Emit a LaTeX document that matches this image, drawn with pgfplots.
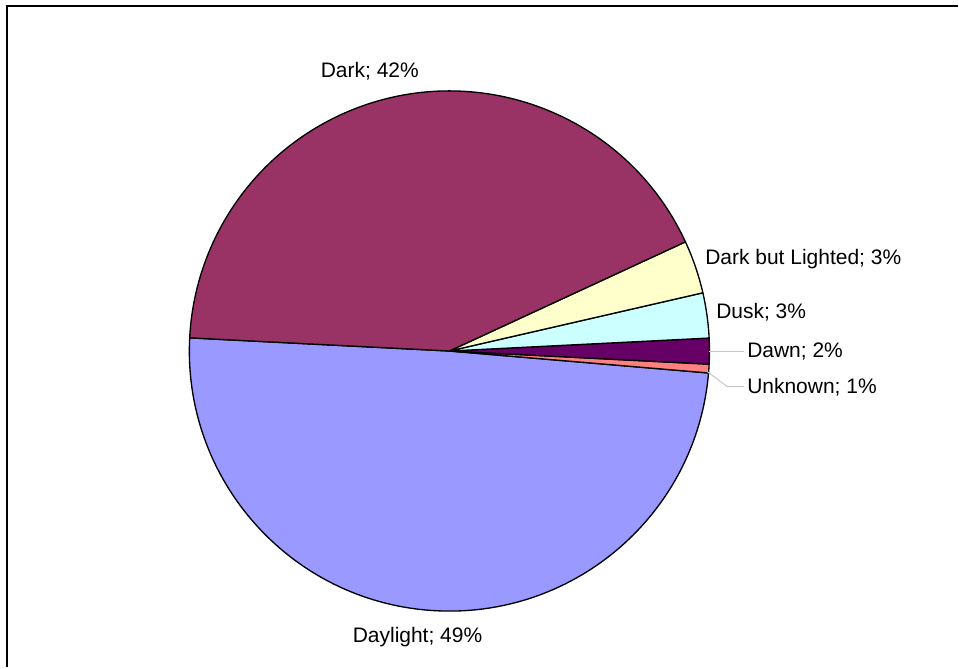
\documentclass[border=0pt]{standalone}
\usepackage{pgfplots}
\pgfplotsset{compat=1.18}
\usepackage{pgfplotstable}
\usepackage{fontspec}
\setmainfont{Liberation Sans}
\definecolor{cDaylight}{HTML}{9999FF}
\definecolor{cUnknown}{HTML}{FF8080}
\definecolor{cDawn}{HTML}{660066}
\definecolor{cDusk}{HTML}{CCFFFF}
\definecolor{cDBL}{HTML}{FFFFCC}
\definecolor{cDark}{HTML}{993366}
\definecolor{leader}{HTML}{C8C8C8}

% slice shares in percent, counter-clockwise from the left edge
\pgfplotstableread[col sep=comma]{
label,pct
Daylight,49.46
Unknown,0.54
Dawn,1.6
Dusk,2.8
Dark but Lighted,3.3
Dark,42.3
}\piedata

\pgfplotstablegetelem{0}{pct}\of\piedata \let\pA\pgfplotsretval
\pgfplotstablegetelem{1}{pct}\of\piedata \let\pB\pgfplotsretval
\pgfplotstablegetelem{2}{pct}\of\piedata \let\pC\pgfplotsretval
\pgfplotstablegetelem{3}{pct}\of\piedata \let\pD\pgfplotsretval
\pgfplotstablegetelem{4}{pct}\of\piedata \let\pE\pgfplotsretval
\pgfplotstablegetelem{5}{pct}\of\piedata \let\pF\pgfplotsretval

\pgfmathsetmacro\aA{177.1}
\pgfmathsetmacro\aB{\aA+3.6*\pA}
\pgfmathsetmacro\aC{\aB+3.6*\pB}
\pgfmathsetmacro\aD{\aC+3.6*\pC}
\pgfmathsetmacro\aE{\aD+3.6*\pD}
\pgfmathsetmacro\aF{\aE+3.6*\pE}
\pgfmathsetmacro\aG{\aF+3.6*\pF}

\newcommand\R{195.3pt}
\newcommand\slice[3]{%
  \fill[fill=#1,draw=black,line width=1pt,line join=round]
    (axis cs:450,316.5) -- ++(#2:\R) arc[start angle=#2,end angle=#3,radius=\R] -- cycle;}

\begin{document}
\begin{tikzpicture}
\begin{axis}[
  scale only axis,
  width=719.25pt, height=501pt,
  xmin=0, xmax=959, ymin=0, ymax=668,
  hide axis, clip=false,
]
\path (axis cs:0,0) rectangle (axis cs:959,668);
% frame
\draw[line width=1.9pt] (axis cs:7,0) -- (axis cs:7,662) -- (axis cs:959,662);

\slice{cDaylight}{\aA}{\aB}
\slice{cUnknown}{\aB}{\aC}
\slice{cDawn}{\aC}{\aD}
\slice{cDusk}{\aD}{\aE}
\slice{cDBL}{\aE}{\aF}
\slice{cDark}{\aF}{\aG}

% leader lines
\draw[leader, line width=0.8pt] (axis cs:710,316) -- (axis cs:745,316);
\draw[leader, line width=0.8pt] (axis cs:708,296) -- (axis cs:728,281) -- (axis cs:745,281);

\begin{scope}[every node/.style={inner sep=0pt, font=\fontsize{15.75}{18}\selectfont}]
\node[anchor=base west] at (axis cs:321,590) {Dark; 42\%};
\node[anchor=base west] at (axis cs:706,403) {Dark but Lighted; 3\%};
\node[anchor=base west] at (axis cs:717,349) {Dusk; 3\%};
\node[anchor=base west] at (axis cs:748,310) {Dawn; 2\%};
\node[anchor=base west] at (axis cs:748,274) {Unknown; 1\%};
\node[anchor=base west] at (axis cs:353,25) {Daylight; 49\%};
\end{scope}
\end{axis}
\end{tikzpicture}
\end{document}
